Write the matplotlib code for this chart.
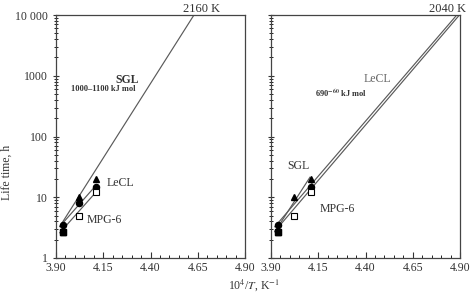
import matplotlib
matplotlib.use("Agg")
import matplotlib.pyplot as plt
from matplotlib.ticker import LogLocator, NullFormatter, MultipleLocator

plt.rcParams['font.family'] = ['Liberation Serif', 'DejaVu Serif']
plt.rcParams['mathtext.fontset'] = 'stix'

# ---- data ----
x_pts = [3.935, 4.02, 4.11]
sgl_life = [2.7, 10.0, 20.0]
lecl_life_left = [3.5, 8.0, 15.0]
lecl_x_right = [3.935, 4.11]
lecl_life_right = [3.5, 15.0]
mpg_x = [3.935, 4.02, 4.11]
mpg_life = [2.7, 5.0, 12.0]

# fitted lines (endpoints)
left_sgl_line_x = [3.92, 4.63]
left_sgl_line_y = [3.3, 10000]
left_lecl_line_x = [3.92, 4.11]
left_lecl_line_y = [3.3, 15.5]
left_mpg_line_x = [3.92, 4.11]
left_mpg_line_y = [2.6, 12.0]

right_sgl_line_x = [3.92, 4.106]
right_sgl_line_y = [2.7, 21.3]
right_lecl_line_x = [3.92, 4.883]
right_lecl_line_y = [3.27, 10000]
right_mpg_line_x = [3.92, 4.897]
right_mpg_line_y = [2.75, 10000]

xticks = [3.90, 4.15, 4.40, 4.65, 4.90]
xticklabels = ["3.90", "4.15", "4.40", "4.65", "4.90"]
yticks = [1, 10, 100, 1000, 10000]
yticklabels = ["1", "10", "100", "1000", "10 000"]

W, H = 471, 294
fig = plt.figure(figsize=(W / 100, H / 100), dpi=100)
axL = fig.add_axes([56 / W, (H - 258) / H, 189 / W, 243 / H])
axR = fig.add_axes([271 / W, (H - 258) / H, 189 / W, 243 / H])

line_c = '#5a5a5a'
txt_c = '#333333'
lw = 0.85
ms = 4.4

for ax in (axL, axR):
    ax.set_yscale('log')
    ax.set_xlim(3.90, 4.90)
    ax.set_ylim(1, 10000)
    ax.set_xticks(xticks)
    ax.set_xticklabels(xticklabels)
    ax.xaxis.set_minor_locator(MultipleLocator(0.05))
    ax.set_yticks(yticks)
    ax.yaxis.set_minor_locator(LogLocator(base=10, subs=range(2, 10), numticks=20))
    ax.yaxis.set_minor_formatter(NullFormatter())
    ax.tick_params(axis='x', which='major', direction='in', length=4, width=0.8,
                   labelsize=8.5, pad=3.2, colors=txt_c)
    ax.tick_params(axis='x', which='minor', direction='in', length=2, width=0.6)
    ax.tick_params(axis='y', which='major', direction='inout', length=5, width=0.8,
                   labelsize=8.5, pad=3.5, colors=txt_c)
    ax.tick_params(axis='y', which='minor', direction='inout', length=3, width=0.6)
    for s in ax.spines.values():
        s.set_linewidth(0.9)
        s.set_color('#444444')

axL.set_yticklabels(yticklabels)
axR.set_yticklabels([])

# ---- left panel ----
axL.plot(left_sgl_line_x, left_sgl_line_y, color=line_c, lw=lw)
axL.plot(left_lecl_line_x, left_lecl_line_y, color=line_c, lw=lw)
axL.plot(left_mpg_line_x, left_mpg_line_y, color=line_c, lw=lw)
axL.plot(x_pts, sgl_life, '^', color='black', ms=ms, ls='none')
axL.plot(x_pts, lecl_life_left, 'o', color='black', ms=ms, ls='none')
axL.plot(mpg_x, mpg_life, 's', mfc='white', mec='black', mew=0.8, ms=ms, ls='none')
axL.plot([mpg_x[0]], [mpg_life[0]], 's', color='black', ms=ms)

axL.text(4.672, 10000, "2160 K", ha='center', va='bottom', fontsize=9, color=txt_c,
         clip_on=False)
axL.text(4.276, 851, "SGL", ha='center', va='center', fontsize=8.5, fontweight='bold',
         color=txt_c)
axL.text(4.149, 594, "1000–1100 kJ mol", ha='center', va='center', fontsize=6,
         fontweight='bold', color=txt_c)
axL.text(4.239, 17.2, "LeCL", ha='center', va='center', fontsize=8.5, color=txt_c)
axL.text(4.154, 4.2, "MPG-6", ha='center', va='center', fontsize=8.5, color=txt_c)

# ---- right panel ----
axR.plot(right_sgl_line_x, right_sgl_line_y, color=line_c, lw=lw)
axR.plot(right_lecl_line_x, right_lecl_line_y, color=line_c, lw=lw)
axR.plot(right_mpg_line_x, right_mpg_line_y, color=line_c, lw=lw)
axR.plot(x_pts, sgl_life, '^', color='black', ms=ms, ls='none')
axR.plot(lecl_x_right, lecl_life_right, 'o', color='black', ms=ms, ls='none')
axR.plot(mpg_x, mpg_life, 's', mfc='white', mec='black', mew=0.8, ms=ms, ls='none')
axR.plot([mpg_x[0]], [mpg_life[0]], 's', color='black', ms=ms)

axR.text(4.834, 10000, "2040 K", ha='center', va='bottom', fontsize=9, color=txt_c,
         clip_on=False)
axR.text(4.461, 884, "LeCL", ha='center', va='center', fontsize=8.5, color='#666666')
axR.text(4.270, 520, r"690$^{\mathbf{-60}}$ kJ mol", ha='center', va='center',
         fontsize=6, fontweight='bold', color=txt_c)
axR.text(4.043, 32.7, "SGL", ha='center', va='center', fontsize=8.5, color=txt_c)
axR.text(4.249, 6.4, "MPG-6", ha='center', va='center', fontsize=8.5, color=txt_c)

fig.text(7 / W, (H - 172) / H, "Life time, h", rotation=90, ha='center', va='center',
         fontsize=8.5, color=txt_c)
fig.text(254 / W, (H - 285) / H, r"10$^4$/$T$, K$^{-1}$", ha='center', va='center',
         fontsize=8.5, color=txt_c)

fig.savefig("out.png", dpi=100)
